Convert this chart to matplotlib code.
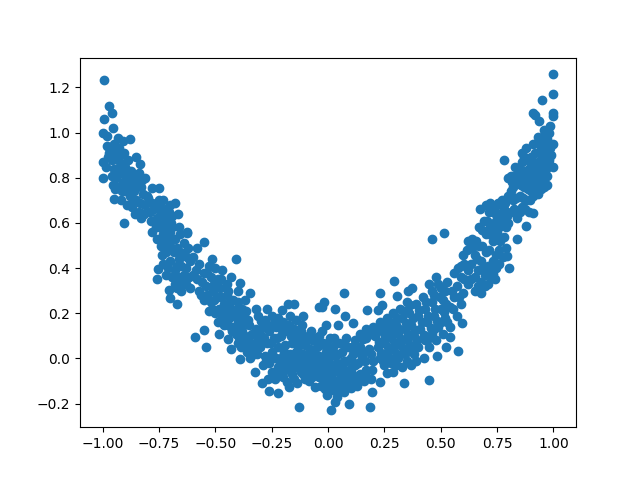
import matplotlib
matplotlib.use('Agg')
import matplotlib.pyplot as plt

# points, left to right
left_arm = [(-0.995,1.235),(-0.97,1.116),(-0.96,1.085),(-0.995,1.06),(-0.955,1.02),(-1.0,0.997),(-0.98,0.987),
    (-0.93,0.978),(-0.88,0.97),(-0.91,0.965),(-1.0,0.868),(-1.0,0.797),(-0.85,0.89),(-0.835,0.86),(-0.81,0.80),
    (-0.78,0.757),(-0.75,0.757),(-0.947,0.704),(-0.905,0.60),(-0.665,0.64),(-0.69,0.58),(-0.625,0.558),
    (-0.98,0.94),(-0.97,0.91),(-0.96,0.88),(-0.985,0.85),(-0.975,0.89),(-0.95,0.95),(-0.94,0.92),(-0.93,0.88),
    (-0.92,0.90),(-0.91,0.86),(-0.95,0.84),(-0.96,0.81),(-0.94,0.80),(-0.92,0.82),(-0.90,0.85),(-0.89,0.80),
    (-0.93,0.76),(-0.91,0.78),(-0.955,0.77),(-0.90,0.74),(-0.87,0.77),(-0.86,0.80),(-0.84,0.82),(-0.88,0.72),
    (-0.86,0.74),(-0.83,0.76),(-0.82,0.73),(-0.85,0.70),(-0.92,0.70),(-0.89,0.68),(-0.87,0.67),(-0.84,0.65),
    (-0.81,0.68),(-0.80,0.71),(-0.78,0.69),(-0.83,0.62),(-0.79,0.65),(-0.77,0.66),(-0.75,0.70),(-0.73,0.70),
    (-0.76,0.62),(-0.74,0.64),(-0.72,0.66),(-0.70,0.68),(-0.68,0.69),(-0.71,0.61),(-0.69,0.63),(-0.75,0.58),
    (-0.73,0.55),(-0.76,0.53),(-0.72,0.52),(-0.70,0.56),(-0.68,0.53),(-0.66,0.58),(-0.74,0.50),(-0.70,0.50),
    (-0.67,0.49),(-0.64,0.51),(-0.62,0.49),(-0.78,0.56),(-0.72,0.47),(-0.76,0.35),(-0.755,0.397),(-0.706,0.305),
    (-0.70,0.266),(-0.67,0.243),(-0.73,0.42),(-0.70,0.43),(-0.72,0.37),(-0.68,0.39),(-0.66,0.44),(-0.64,0.46),
    (-0.68,0.33),(-0.66,0.36),(-0.63,0.40),(-0.61,0.43),(-0.65,0.30),(-0.63,0.33),(-0.60,0.37),
    (-0.965,0.93),(-0.945,0.89),(-0.925,0.93),(-0.905,0.91),(-0.885,0.88),(-0.935,0.84),(-0.905,0.82),(-0.875,0.83),
    (-0.945,0.75),(-0.915,0.74),(-0.885,0.76),(-0.855,0.77),(-0.825,0.79),(-0.865,0.70),(-0.835,0.69),(-0.805,0.72),
    (-0.855,0.64),(-0.815,0.64),(-0.785,0.61),(-0.765,0.68),(-0.745,0.67),(-0.725,0.62),(-0.705,0.65),(-0.765,0.58),
    (-0.735,0.59),(-0.715,0.57),(-0.695,0.60),(-0.655,0.55),(-0.745,0.53),(-0.705,0.53),(-0.685,0.47),(-0.655,0.47),
    (-0.625,0.45),(-0.735,0.46),(-0.71,0.40),(-0.69,0.36),(-0.65,0.41),(-0.67,0.41),(-0.64,0.37),(-0.615,0.36),
    (-0.67,0.31),(-0.645,0.34),(-0.61,0.31)]
left_middle = [(-0.627,0.555),(-0.55,0.516),(-0.58,0.487),(-0.515,0.44),(-0.408,0.44),(-0.39,0.336),(-0.40,0.297),
    (-0.347,0.292),(-0.55,0.124),(-0.59,0.097),(-0.543,0.049),(-0.484,0.11),(-0.444,0.084),(-0.43,0.04),
    (-0.39,-0.004),(-0.60,0.45),(-0.57,0.42),(-0.53,0.41),(-0.50,0.40),(-0.47,0.39),(-0.58,0.35),(-0.55,0.38),
    (-0.52,0.36),(-0.49,0.35),(-0.45,0.33),(-0.43,0.36),(-0.57,0.30),(-0.54,0.32),(-0.51,0.30),(-0.48,0.31),
    (-0.45,0.28),(-0.42,0.26),(-0.55,0.26),(-0.52,0.25),(-0.49,0.27),(-0.46,0.24),(-0.43,0.22),(-0.40,0.25),
    (-0.37,0.26),(-0.53,0.21),(-0.50,0.20),(-0.47,0.19),(-0.44,0.18),(-0.41,0.20),(-0.38,0.22),(-0.49,0.16),
    (-0.46,0.15),(-0.43,0.14),(-0.40,0.16),(-0.37,0.18),(-0.35,0.15),(-0.41,0.11),(-0.38,0.12),(-0.35,0.10),
    (-0.32,0.13),(-0.30,0.11),(-0.40,0.07),(-0.37,0.06),(-0.34,0.07),(-0.31,0.08),(-0.36,0.03),(-0.33,0.02),
    (-0.585,0.39),(-0.56,0.34),(-0.535,0.38),(-0.505,0.33),(-0.475,0.35),(-0.445,0.30),(-0.565,0.28),(-0.535,0.28),
    (-0.505,0.26),(-0.475,0.27),(-0.435,0.25),(-0.405,0.22),(-0.515,0.22),(-0.485,0.22),(-0.455,0.21),(-0.425,0.19),
    (-0.395,0.19),(-0.365,0.21),(-0.475,0.17),(-0.445,0.15),(-0.415,0.14),(-0.385,0.15),(-0.355,0.17),(-0.425,0.12),
    (-0.395,0.09),(-0.365,0.09),(-0.335,0.11),(-0.305,0.08),(-0.385,0.05),(-0.355,0.05),(-0.325,0.05),(-0.345,0.0),
    (-0.315,0.02)]
center = [(-0.324,-0.062),(-0.293,-0.11),(-0.262,-0.142),(-0.222,-0.155),(-0.173,-0.128),(-0.138,-0.11),(-0.182,-0.106),
    (-0.129,-0.217),(-0.227,-0.075),(-0.178,0.243),(-0.151,0.243),(-0.11,0.19),(-0.32,0.22),(-0.27,0.217),
    (-0.204,0.213),(-0.04,0.23),(-0.018,0.248),(-0.027,0.23),(0.071,0.288),(0.031,0.221),(0.076,0.19),
    (-0.009,0.146),(0.044,0.146),(0.111,0.159),(-0.058,-0.128),(-0.004,-0.164),(0.031,-0.195),(0.013,-0.23),
    (0.093,-0.2),(0.187,-0.217),(0.196,-0.15),
    (-0.31,0.19),(-0.28,0.17),(-0.25,0.19),(-0.22,0.18),(-0.30,0.05),(-0.29,0.14),(-0.26,0.12),(-0.23,0.14),
    (-0.20,0.16),(-0.17,0.19),(-0.14,0.17),(-0.27,0.07),(-0.24,0.09),(-0.21,0.10),(-0.18,0.12),(-0.15,0.13),
    (-0.12,0.12),(-0.09,0.10),(-0.28,0.01),(-0.25,0.03),(-0.22,0.05),(-0.19,0.06),(-0.16,0.07),(-0.13,0.08),
    (-0.10,0.06),(-0.07,0.08),(-0.04,0.10),(-0.29,-0.03),(-0.26,-0.02),(-0.23,0.0),(-0.20,0.01),(-0.17,0.02),
    (-0.14,0.03),(-0.11,0.02),(-0.08,0.04),(-0.05,0.05),(-0.02,0.07),(0.01,0.09),(-0.25,-0.06),(-0.22,-0.04),
    (-0.19,-0.03),(-0.16,-0.02),(-0.13,-0.01),(-0.10,-0.02),(-0.07,0.0),(-0.04,0.01),(-0.01,0.03),(0.02,0.05),
    (0.05,0.07),(0.08,0.09),(-0.20,-0.08),(-0.16,-0.07),(-0.12,-0.06),(-0.09,-0.05),(-0.06,-0.04),(-0.03,-0.03),
    (0.0,-0.01),(0.03,0.01),(0.06,0.03),(0.09,0.05),(0.12,0.08),(-0.10,-0.09),(-0.07,-0.08),(-0.04,-0.08),
    (-0.01,-0.06),(0.02,-0.05),(0.05,-0.03),(0.08,-0.01),(0.11,0.02),(0.14,0.05),(0.17,0.09),(-0.03,-0.12),
    (0.0,-0.10),(0.03,-0.10),(0.06,-0.08),(0.09,-0.06),(0.12,-0.03),(0.15,0.0),(0.18,0.04),(0.02,-0.14),
    (0.05,-0.13),(0.08,-0.11),(0.11,-0.09),(0.14,-0.07),(0.17,-0.05),(0.20,-0.01),(0.04,-0.17),(0.07,-0.15),
    (0.10,-0.13),(0.13,-0.12),(0.16,-0.10),(0.19,-0.09),
    (-0.295,0.165),(-0.265,0.15),(-0.235,0.165),(-0.205,0.125),(-0.175,0.15),(-0.145,0.10),(-0.115,0.15),(-0.075,0.12),
    (-0.285,0.09),(-0.255,0.07),(-0.225,0.09),(-0.195,0.03),(-0.165,0.10),(-0.135,0.05),(-0.105,0.09),(-0.055,0.09),
    (-0.025,0.12),(-0.275,-0.01),(-0.245,0.0),(-0.215,-0.02),(-0.185,0.0),(-0.155,0.0),(-0.125,0.01),(-0.095,0.01),
    (-0.065,0.03),(-0.035,0.06),(-0.005,0.06),(0.025,0.09),(-0.265,-0.09),(-0.235,-0.09),(-0.205,-0.05),(-0.175,-0.05),
    (-0.145,-0.04),(-0.115,-0.03),(-0.085,-0.02),(-0.055,-0.01),(-0.025,0.0),(0.015,0.02),(0.045,0.02),(0.075,0.06),
    (0.105,0.05),(-0.15,-0.09),(-0.11,-0.07),(-0.075,-0.06),(-0.045,-0.05),(-0.015,-0.03),(0.015,-0.03),(0.04,-0.02),
    (0.07,-0.01),(0.10,0.0),(0.13,0.03),(0.16,0.03),(-0.085,-0.10),(-0.02,-0.09),(0.015,-0.08),(0.045,-0.06),
    (0.075,-0.05),(0.105,-0.04),(0.135,-0.02),(0.165,-0.01),(0.19,0.02),(-0.015,-0.135),(0.015,-0.115),(0.045,-0.10),
    (0.075,-0.09),(0.105,-0.07),(0.135,-0.09),(0.165,-0.07),(0.195,-0.05),(0.035,-0.145),(0.065,-0.125),(0.12,-0.10)]
right_middle = [(0.293,0.345),(0.231,0.292),(0.173,0.213),(0.24,0.235),(0.222,0.213),(0.307,0.275),(0.356,0.297),
    (0.373,0.31),(0.596,0.159),(0.542,0.093),(0.524,0.049),(0.578,0.031),(0.484,0.013),(0.427,0.0),(0.449,-0.097),
    (0.338,-0.11),(0.369,-0.027),(0.231,-0.106),(0.262,-0.066),
    (0.14,0.11),(0.17,0.13),(0.20,0.14),(0.23,0.16),(0.26,0.18),(0.29,0.20),(0.32,0.22),(0.35,0.25),(0.21,0.10),
    (0.24,0.12),(0.27,0.13),(0.30,0.15),(0.33,0.18),(0.36,0.20),(0.39,0.24),(0.42,0.27),(0.22,0.05),(0.25,0.07),
    (0.28,0.09),(0.31,0.11),(0.34,0.13),(0.37,0.15),(0.40,0.19),(0.43,0.22),(0.46,0.25),(0.23,0.0),(0.26,0.02),
    (0.29,0.04),(0.32,0.06),(0.35,0.08),(0.38,0.10),(0.41,0.13),(0.44,0.16),(0.47,0.19),(0.50,0.22),(0.25,-0.03),
    (0.28,-0.02),(0.31,0.0),(0.34,0.02),(0.37,0.04),(0.40,0.05),(0.43,0.08),(0.46,0.11),(0.49,0.14),(0.52,0.18),
    (0.29,-0.06),(0.33,-0.04),(0.39,-0.01),(0.45,0.05),(0.48,0.08),(0.51,0.11),(0.54,0.14),(0.57,0.19),
    (0.47,0.28),(0.50,0.31),(0.53,0.34),(0.45,0.33),(0.48,0.36),(0.51,0.26),(0.54,0.23),(0.56,0.27),(0.59,0.24),
    (0.57,0.32),(0.60,0.29),
    (0.155,0.085),(0.185,0.11),(0.215,0.125),(0.245,0.145),(0.275,0.16),(0.305,0.18),(0.335,0.21),(0.365,0.235),
    (0.225,0.075),(0.255,0.10),(0.285,0.115),(0.315,0.13),(0.345,0.155),(0.375,0.18),(0.405,0.215),(0.435,0.25),
    (0.235,0.025),(0.265,0.05),(0.295,0.07),(0.325,0.085),(0.355,0.11),(0.385,0.125),(0.415,0.16),(0.445,0.19),
    (0.475,0.22),(0.245,-0.01),(0.275,0.0),(0.305,0.02),(0.335,0.04),(0.365,0.06),(0.395,0.08),(0.425,0.105),
    (0.455,0.135),(0.485,0.165),(0.515,0.205),(0.30,-0.03),(0.35,-0.01),(0.38,0.02),(0.44,0.08),(0.47,0.13),
    (0.50,0.16),(0.53,0.16),(0.555,0.22),(0.46,0.30),(0.49,0.33),(0.52,0.30),(0.55,0.30),(0.525,0.24),(0.495,0.27),
    (0.58,0.27)]
right_arm = [(0.462,0.527),(0.516,0.554),(0.996,1.258),(1.0,1.169),(0.951,1.143),(0.911,1.085),(0.92,1.08),(0.996,1.085),
    (1.0,1.072),(0.938,1.05),(0.782,0.877),(1.0,0.948),(0.996,0.85),(0.973,0.766),(0.676,0.664),(0.911,0.642),
    (0.88,0.585),(0.84,0.531),(0.804,0.399),(0.796,0.452),(0.733,0.376),
    (0.59,0.36),(0.62,0.33),(0.65,0.30),(0.68,0.29),(0.56,0.38),(0.59,0.41),(0.62,0.39),(0.65,0.36),(0.68,0.34),
    (0.71,0.33),(0.74,0.35),(0.60,0.46),(0.62,0.52),(0.64,0.49),(0.66,0.44),(0.69,0.40),(0.72,0.38),(0.64,0.53),
    (0.67,0.50),(0.70,0.47),(0.73,0.43),(0.76,0.42),(0.79,0.49),(0.67,0.58),(0.70,0.55),(0.73,0.52),(0.76,0.48),
    (0.78,0.54),(0.69,0.61),(0.72,0.58),(0.75,0.56),(0.77,0.61),(0.70,0.68),(0.73,0.65),(0.75,0.62),(0.78,0.66),
    (0.80,0.60),(0.72,0.69),(0.74,0.67),(0.77,0.70),(0.81,0.65),(0.84,0.62),(0.86,0.67),(0.89,0.65),(0.80,0.72),
    (0.82,0.70),(0.85,0.72),(0.88,0.70),(0.91,0.72),(0.80,0.80),(0.82,0.76),(0.84,0.78),(0.87,0.76),(0.90,0.74),
    (0.93,0.73),(0.96,0.76),(0.81,0.81),(0.85,0.82),(0.88,0.80),(0.91,0.79),(0.94,0.78),(0.97,0.81),(0.83,0.85),
    (0.86,0.87),(0.89,0.84),(0.92,0.83),(0.95,0.82),(0.98,0.86),(0.86,0.91),(0.88,0.93),(0.90,0.89),(0.93,0.87),
    (0.96,0.86),(0.91,0.95),(0.94,0.92),(0.97,0.91),(0.99,0.90),(0.93,0.98),(0.95,0.96),(0.97,0.97),(0.96,1.01),
    (0.98,1.0),(0.985,1.03),
    (0.605,0.35),(0.635,0.35),(0.665,0.32),(0.695,0.32),(0.575,0.40),(0.605,0.42),(0.635,0.42),(0.665,0.39),(0.695,0.37),
    (0.725,0.36),(0.615,0.48),(0.65,0.46),(0.68,0.43),(0.71,0.41),(0.745,0.40),(0.655,0.52),(0.685,0.50),(0.715,0.48),
    (0.745,0.46),(0.775,0.45),(0.685,0.57),(0.715,0.55),(0.745,0.53),(0.765,0.52),(0.705,0.61),(0.735,0.60),(0.76,0.58),
    (0.79,0.58),(0.715,0.65),(0.745,0.64),(0.765,0.64),(0.795,0.63),(0.755,0.69),(0.785,0.69),(0.825,0.66),(0.85,0.65),
    (0.875,0.66),(0.81,0.74),(0.835,0.71),(0.865,0.71),(0.895,0.70),(0.815,0.78),(0.855,0.77),(0.885,0.75),(0.915,0.75),
    (0.945,0.75),(0.83,0.81),(0.865,0.80),(0.895,0.78),(0.925,0.78),(0.955,0.79),(0.845,0.84),(0.875,0.83),(0.905,0.81),
    (0.935,0.81),(0.965,0.84),(0.87,0.89),(0.895,0.87),(0.925,0.85),(0.95,0.85),(0.92,0.91),(0.95,0.89),(0.98,0.88),
    (0.94,0.95),(0.965,0.94),(0.985,0.93),(0.955,0.98)]

points = left_arm + left_middle + center + right_middle + right_arm
x = [p[0] for p in points]
y = [p[1] for p in points]

plt.figure(figsize=(6.4, 4.8), dpi=100)
plt.scatter(x, y)
plt.savefig('out.png')
